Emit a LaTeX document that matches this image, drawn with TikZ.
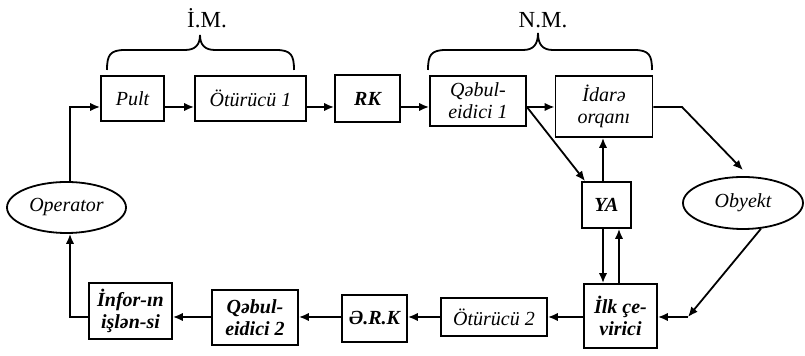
\documentclass[tikz,border=0pt]{standalone}
\usepackage{fontspec}
\setmainfont{Liberation Serif}
\usetikzlibrary{arrows.meta,shapes.geometric}
\tikzset{
  blk/.style={draw, line width=0.9pt, inner sep=0pt, align=center,
    font=\fontsize{10}{11}\selectfont\itshape},
  bblk/.style={blk, font=\fontsize{10}{11}\selectfont\bfseries\itshape},
  oval/.style={blk, ellipse},
  arr/.style={line width=0.9pt, -{Latex[length=5pt,width=4.2pt]}},
  brc/.style={line width=0.9pt},
  lbl/.style={font=\fontsize{11.5}{12}\selectfont, anchor=base, inner sep=0pt}
}
\begin{document}
\begin{tikzpicture}[x=0.5pt,y=-0.5pt]
\useasboundingbox (0,0) rectangle (805,356);
% top row
\node[blk, minimum width=31.5pt, minimum height=22.5pt] (pult) at (132.5,98.5) {Pult};
\node[blk, minimum width=55.5pt, minimum height=22.5pt] (ot1) at (250.5,98.5) {Ötürücü 1};
\node[bblk, minimum width=32.5pt, minimum height=23.5pt] (rk) at (367.5,98.5) {RK};
\node[blk, minimum width=48pt, minimum height=25pt] (qeb1) at (478,101) {Qəbul-\\eidici 1};
\node[blk, minimum width=48.5pt, minimum height=30.5pt] (idare) at (604,106.5) {İdarə\\orqanı};
% middle
\node[bblk, minimum width=24.5pt, minimum height=23pt] (ya) at (606.5,205) {YA};
\node[oval, minimum width=60pt, minimum height=26pt] (obyekt) at (743,203) {Obyekt};
\node[oval, minimum width=59.5pt, minimum height=25.5pt] (operator) at (66.5,207.5) {Operator};
% bottom row
\node[bblk, minimum width=36.5pt, minimum height=32pt] (ilk) at (620.5,316) {İlk çe-\\virici};
\node[blk, minimum width=53pt, minimum height=19pt] (ot2) at (494,317) {Ötürücü 2};
\node[bblk, minimum width=32.5pt, minimum height=23.5pt] (erk) at (374.5,318.5) {Ə.R.K};
\node[bblk, minimum width=43pt, minimum height=27.5pt] (qeb2) at (255,317.5) {Qəbul-\\eidici 2};
\node[bblk, minimum width=41.5pt, minimum height=28pt] (infor) at (130.5,311) {İnfor-ın\\işlən-si};
% braces and labels
\draw[brc] (107,70) .. controls (107,55) and (110,50) .. (125,50) -- (185,50)
  .. controls (195,50) and (200,45) .. (200,35)
  .. controls (200,45) and (205,50) .. (215,50) -- (276,50)
  .. controls (291,50) and (294,55) .. (294,70);
\node[lbl] (im) at (207,28) {İ.M.};
\draw[brc] (428,70) .. controls (428,55) and (431,50) .. (446,50) -- (523,50)
  .. controls (533,50) and (538,45) .. (538,33)
  .. controls (538,45) and (543,50) .. (553,50) -- (634,50)
  .. controls (649,50) and (652,55) .. (652,70);
\node[lbl] (nm) at (543,28) {N.M.};
% helper coordinates
\coordinate (ty) at (0,107);
\coordinate (by) at (0,317);
\coordinate (opx) at (70,0);
\coordinate (yax1) at (603,0);
\coordinate (yax2) at (619,0);
\coordinate (bend1) at (682,107);
\coordinate (bend2) at (688,317);
% connectors
\draw[arr] (operator.north -| opx) |- (pult.west |- ty);
\draw[arr] (pult.east |- ty) -- (ot1.west |- ty);
\draw[arr] (ot1.east |- ty) -- (rk.west |- ty);
\draw[arr] (rk.east |- ty) -- (qeb1.west |- ty);
\draw[arr] (qeb1.east |- ty) -- (idare.west |- ty);
\draw[arr] (idare.east |- ty) -- (bend1) -- ([yshift=3pt]obyekt.north);
\draw[arr] (qeb1.east |- ty) -- ([xshift=2pt]ya.north west);
\draw[arr] (ya.north -| yax1) -- (idare.south -| yax1);
\draw[arr] (ya.south -| yax1) -- (ilk.north -| yax1);
\draw[arr] (ilk.north -| yax2) -- (ya.south -| yax2);
\draw[arr] (obyekt.-55) -- (bend2);
\draw[arr] (bend2) -- (ilk.east |- by);
\draw[arr] (ilk.west |- by) -- (ot2.east |- by);
\draw[arr] (ot2.west |- by) -- (erk.east |- by);
\draw[arr] (erk.west |- by) -- (qeb2.east |- by);
\draw[arr] (qeb2.west |- by) -- (infor.east |- by);
\draw[arr] (infor.west |- by) -| (operator.south -| opx);
\end{tikzpicture}
\end{document}
